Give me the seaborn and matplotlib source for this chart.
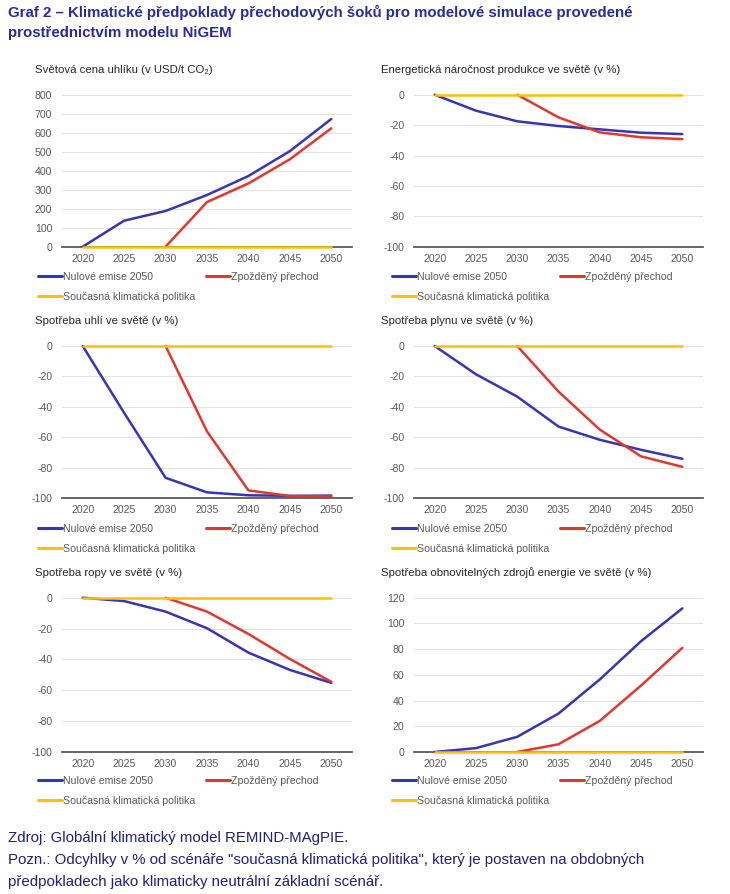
import numpy as np
import pandas as pd
import matplotlib
matplotlib.use("Agg")
import matplotlib.pyplot as plt
from matplotlib.lines import Line2D
from matplotlib.ticker import FixedLocator
import seaborn as sns

# ---------------- data ----------------
years = [2020, 2025, 2030, 2035, 2040, 2045, 2050]
scenarios = ["Nulové emise 2050", "Zpožděný přechod", "Současná klimatická politika"]
colors = ["#3535b5", "#e0382e", "#ffc000"]

carbon_nz = [0, 137, 188, 272, 372, 503, 672]
carbon_dt = [np.nan, np.nan, 0, 235, 333, 460, 623]
carbon_cp = [0, 0, 0, 0, 0, 0, 0]

energy_nz = [0, -10.5, -17.5, -20.6, -22.8, -25.0, -25.9]
energy_dt = [np.nan, np.nan, 0, -14.9, -24.8, -28.0, -29.2]
energy_cp = [0, 0, 0, 0, 0, 0, 0]

coal_nz = [0, -44, -86.7, -96.3, -98.2, -98.6, -98.4]
coal_dt = [np.nan, np.nan, 0, -56.2, -95.0, -98.7, -98.9]
coal_cp = [0, 0, 0, 0, 0, 0, 0]

gas_nz = [0, -18.6, -33.3, -53.0, -61.7, -68.3, -74.2]
gas_dt = [np.nan, np.nan, 0, -30.0, -55.0, -72.6, -79.5]
gas_cp = [0, 0, 0, 0, 0, 0, 0]

oil_nz = [0, -2.2, -9.0, -19.8, -35.6, -46.8, -55.2]
oil_dt = [np.nan, np.nan, 0, -9.0, -23.5, -39.7, -54.5]
oil_cp = [0, 0, 0, 0, 0, 0, 0]

ren_nz = [0, 3.0, 11.8, 29.9, 56.4, 86.2, 111.7]
ren_dt = [np.nan, np.nan, 0, 6.0, 24.2, 51.7, 81.0]
ren_cp = [0, 0, 0, 0, 0, 0, 0]

panel_titles = [
    "Světová cena uhlíku (v USD/t CO₂)",
    "Energetická náročnost produkce ve světě (v %)",
    "Spotřeba uhlí ve světě (v %)",
    "Spotřeba plynu ve světě (v %)",
    "Spotřeba ropy ve světě (v %)",
    "Spotřeba obnovitelných zdrojů energie ve světě (v %)",
]
panel_series = [
    (carbon_nz, carbon_dt, carbon_cp),
    (energy_nz, energy_dt, energy_cp),
    (coal_nz, coal_dt, coal_cp),
    (gas_nz, gas_dt, gas_cp),
    (oil_nz, oil_dt, oil_cp),
    (ren_nz, ren_dt, ren_cp),
]
panel_yticks = [
    [0, 100, 200, 300, 400, 500, 600, 700, 800],
    [-100, -80, -60, -40, -20, 0],
    [-100, -80, -60, -40, -20, 0],
    [-100, -80, -60, -40, -20, 0],
    [-100, -80, -60, -40, -20, 0],
    [0, 20, 40, 60, 80, 100, 120],
]

title_lines = ["Graf 2 – Klimatické předpoklady přechodových šoků pro modelové simulace provedené",
               "prostřednictvím modelu NiGEM"]
source_text = "Zdroj: Globální klimatický model REMIND-MAgPIE."
note_lines = ["Pozn.: Odcyhlky v % od scénáře \"současná klimatická politika\", který je postaven na obdobných",
              "předpokladech jako klimaticky neutrální základní scénář."]

# ---------------- style ----------------
sns.set_theme(style="white")
plt.rcParams["font.family"] = ["Liberation Sans", "DejaVu Sans"]
plt.rcParams["axes.unicode_minus"] = False

W, H = 730, 894
fig = plt.figure(figsize=(W / 100, H / 100), dpi=100)
fig.patch.set_facecolor("white")

def fx(px):
    return px / W

def fy(py):
    return 1 - py / H

navy = "#2a2a9a"
fig.text(fx(8), fy(12), title_lines[0], ha="left", va="center", fontsize=10.8,
         fontweight="bold", color=navy)
fig.text(fx(8), fy(33), title_lines[1], ha="left", va="center", fontsize=10.8,
         fontweight="bold", color=navy)

# axes layout in pixels: (left, right, top, bottom)
cols = [(62, 352), (414, 703)]
rows = [(94.7, 246.7), (346, 498), (597.7, 752)]
title_y = [70, 321, 573]
legend_y = [268, 519.5, 771.5]

tick_color = "#595959"

for i, (title, series, yt) in enumerate(zip(panel_titles, panel_series, panel_yticks)):
    r, c = divmod(i, 2)
    l, rr = cols[c]
    t, b = rows[r]
    ax = fig.add_axes([fx(l), fy(b), fx(rr - l), (b - t) / H])
    df = pd.DataFrame({
        "year": years * 3,
        "value": list(series[0]) + list(series[1]) + list(series[2]),
        "scenario": [scenarios[0]] * 7 + [scenarios[1]] * 7 + [scenarios[2]] * 7,
    })
    sns.lineplot(data=df, x="year", y="value", hue="scenario", hue_order=scenarios,
                 palette=colors, linewidth=1.8, legend=False, ax=ax, clip_on=False)
    ax.set_xlim(2017.5, 2052.5)
    ax.set_ylim(min(yt), max(yt))
    ax.set_xlabel("")
    ax.set_ylabel("")
    ax.set_xticks(years)
    ax.set_xticklabels([str(y) for y in years])
    ax.xaxis.set_minor_locator(FixedLocator([2017.5 + 5 * k for k in range(8)]))
    ax.tick_params(axis="x", which="major", length=0, pad=5, labelsize=7.6, labelcolor=tick_color)
    ax.tick_params(axis="x", which="minor", length=4, width=1, color="#595959", direction="out")
    ax.set_yticks(yt)
    ax.tick_params(axis="y", length=0, pad=7, labelsize=7.6, labelcolor=tick_color)
    ax.grid(axis="y", color="#e3e3e3", linewidth=0.8)
    ax.set_axisbelow(True)
    for s in ["left", "right", "top"]:
        ax.spines[s].set_visible(False)
    ax.spines["bottom"].set_color("#595959")
    ax.spines["bottom"].set_linewidth(1.3)
    ax.spines["bottom"].set_zorder(1)

    # subplot title
    tx = 35 if c == 0 else 381
    fig.text(fx(tx), fy(title_y[r]), title, ha="left", va="center", fontsize=8.2, color="#262626")

    # legend
    handles = [Line2D([], [], color=colors[0], lw=2.2),
               Line2D([], [], color=colors[2], lw=2.2),
               Line2D([], [], color=colors[1], lw=2.2)]
    labels = [scenarios[0], scenarios[2], scenarios[1]]
    lx = 38 if c == 0 else 392
    fig.legend(handles, labels, loc="upper left", bbox_to_anchor=(fx(lx), fy(legend_y[r] + 4)),
               ncol=2, frameon=False, fontsize=7.6, handlelength=2.3, handletextpad=0.1,
               columnspacing=1.0, labelspacing=0.95, borderpad=0, borderaxespad=0,
               labelcolor="#595959")

foot_color = "#1f1f80"
fig.text(fx(8), fy(838), source_text, ha="left", va="center", fontsize=10.8, color=foot_color)
fig.text(fx(8), fy(860), note_lines[0], ha="left", va="center", fontsize=10.8, color=foot_color)
fig.text(fx(8), fy(882), note_lines[1], ha="left", va="center", fontsize=10.8, color=foot_color)

fig.savefig("out.png", dpi=100, facecolor="white")
